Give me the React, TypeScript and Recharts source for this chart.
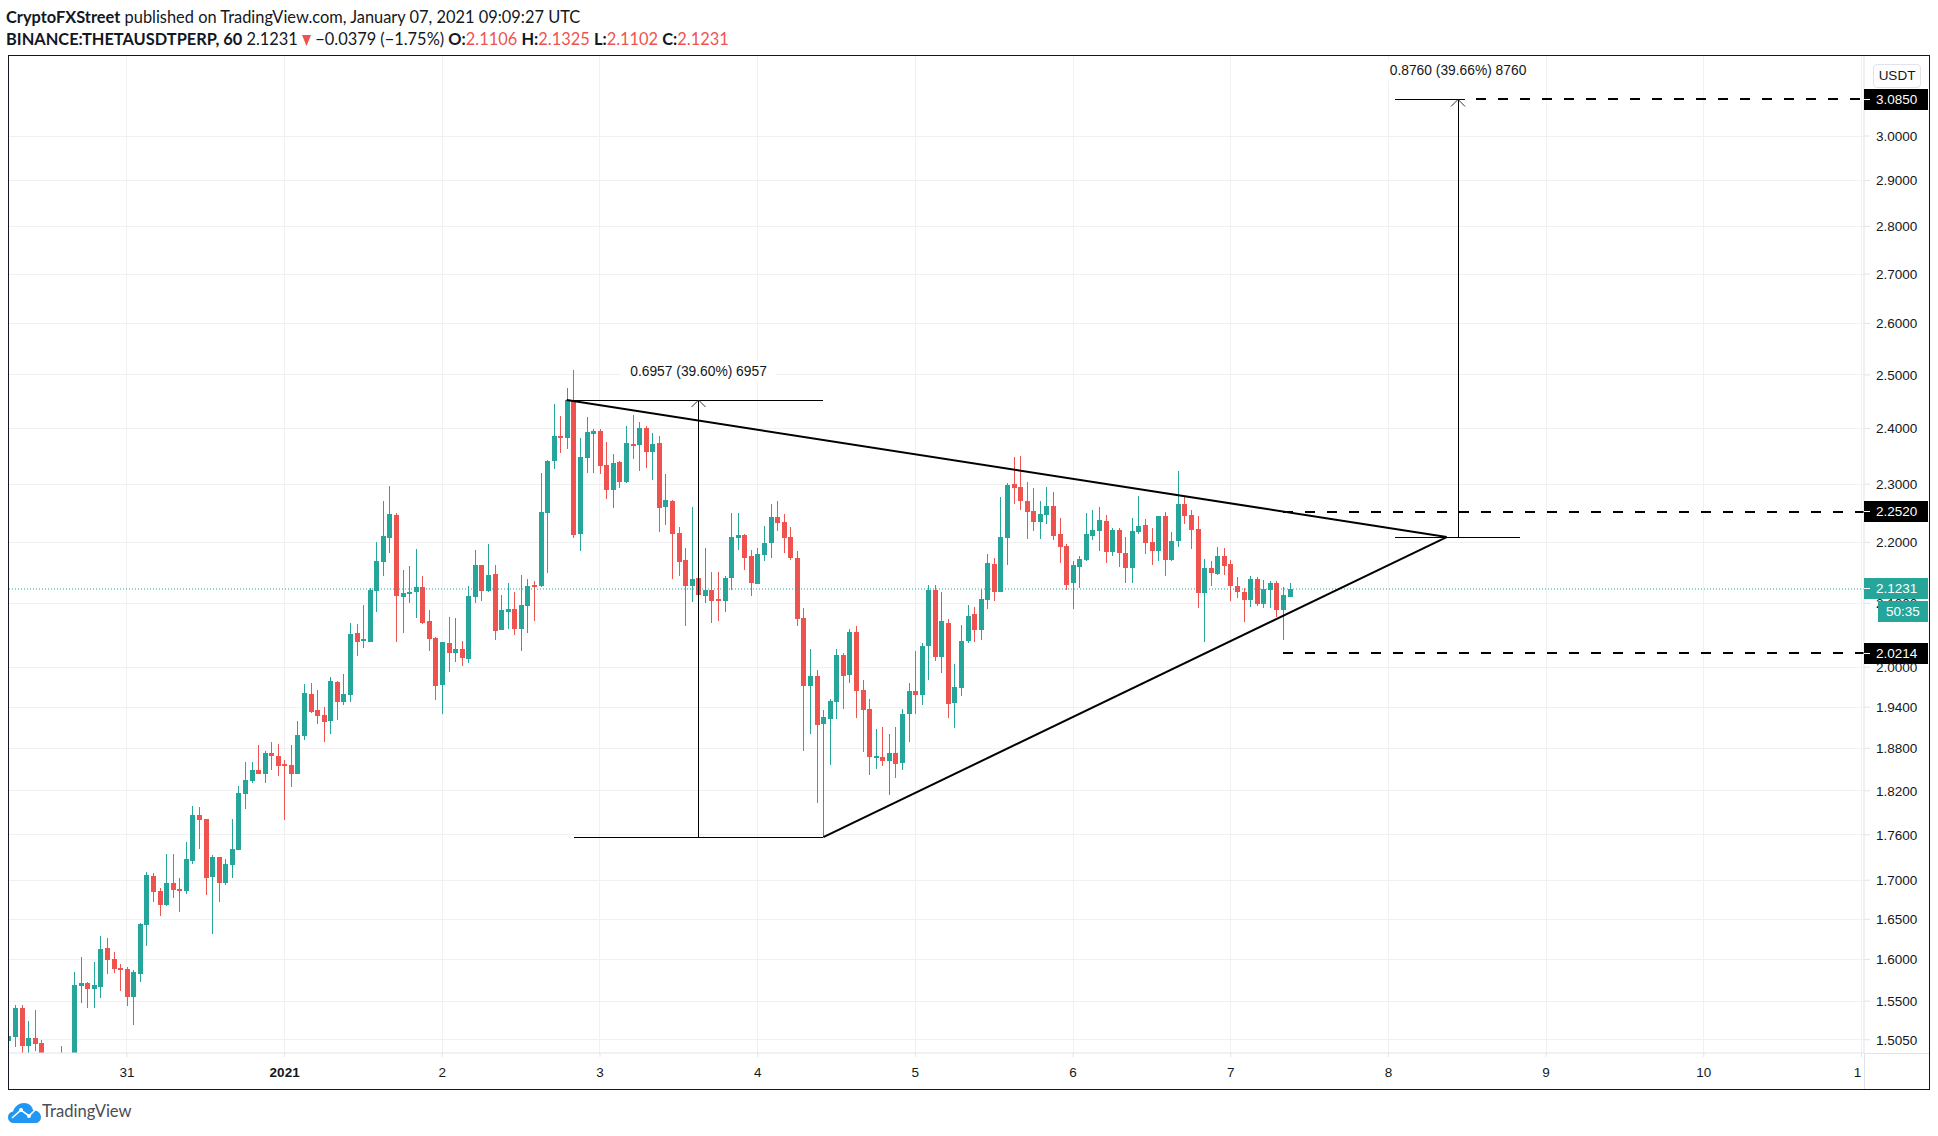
import { ComposedChart, Bar, XAxis, YAxis, CartesianGrid, ReferenceLine, ReferenceDot } from 'recharts'

const UP = '#26a69a'
const DOWN = '#ef5350'
const INK = '#131722'
const AXIS = '#e0e3eb'
const GRID = '#f1f1f3'
const AXIS_FONT = '"Liberation Sans", sans-serif'

// hourly candles, first one is Dec 30 06:00
const opens = [
  1.504, 1.508, 1.542, 1.498, 1.507, 1.501, 1.473, 1.454, 1.468, 1.482,
  1.473, 1.568, 1.572, 1.565, 1.567, 1.614, 1.601, 1.590, 1.589, 1.555,
  1.583, 1.643, 1.705, 1.686, 1.668, 1.696, 1.689, 1.686, 1.725, 1.787,
  1.781, 1.704, 1.730, 1.696, 1.720, 1.740, 1.816, 1.834, 1.849, 1.844,
  1.873, 1.869, 1.858, 1.856, 1.844, 1.898, 1.960, 1.936, 1.929, 1.920,
  1.978, 1.948, 1.958, 2.053, 2.041, 2.039, 2.120, 2.167, 2.207, 2.247,
  2.110, 2.115, 2.118, 2.127, 2.072, 2.045, 1.973, 2.037, 2.022, 2.028,
  2.013, 2.110, 2.162, 2.120, 2.148, 2.058, 2.086, 2.091, 2.059, 2.096,
  2.130, 2.128, 2.250, 2.341, 2.386, 2.383, 2.453, 2.214, 2.347, 2.390,
  2.395, 2.334, 2.290, 2.339, 2.304, 2.372, 2.370, 2.401, 2.357, 2.374,
  2.260, 2.271, 2.216, 2.171, 2.128, 2.141, 2.112, 2.122, 2.107, 2.104,
  2.141, 2.208, 2.213, 2.177, 2.131, 2.179, 2.199, 2.243, 2.235, 2.209,
  2.174, 2.077, 1.972, 1.987, 1.915, 1.923, 1.948, 2.019, 1.988, 2.055,
  1.966, 1.937, 1.866, 1.868, 1.862, 1.873, 1.859, 1.930, 1.964, 1.958,
  2.033, 2.122, 2.016, 2.069, 1.946, 1.969, 2.041, 2.083, 2.058, 2.105,
  2.164, 2.118, 2.208, 2.300, 2.295, 2.271, 2.254, 2.235, 2.247, 2.262,
  2.214, 2.194, 2.133, 2.159, 2.171, 2.211, 2.219, 2.236, 2.184, 2.221,
  2.182, 2.158, 2.218, 2.230, 2.201, 2.186, 2.245, 2.171, 2.202, 2.266,
  2.247, 2.223, 2.117, 2.158, 2.148, 2.177, 2.164, 2.128, 2.118, 2.105,
  2.139, 2.099, 2.122, 2.133, 2.089, 2.1106,
]
const highs = [
  1.509, 1.546, 1.546, 1.527, 1.540, 1.505, 1.482, 1.480, 1.498, 1.487,
  1.585, 1.603, 1.573, 1.597, 1.629, 1.627, 1.609, 1.595, 1.591, 1.587,
  1.645, 1.711, 1.709, 1.690, 1.734, 1.734, 1.703, 1.750, 1.799, 1.798,
  1.781, 1.733, 1.730, 1.728, 1.781, 1.827, 1.861, 1.861, 1.885, 1.876,
  1.889, 1.886, 1.863, 1.885, 1.920, 1.975, 1.976, 1.966, 1.940, 1.985,
  1.979, 1.990, 2.069, 2.067, 2.097, 2.125, 2.201, 2.271, 2.297, 2.250,
  2.154, 2.161, 2.189, 2.144, 2.089, 2.047, 2.039, 2.078, 2.077, 2.041,
  2.128, 2.187, 2.162, 2.197, 2.162, 2.114, 2.133, 2.118, 2.146, 2.139,
  2.136, 2.320, 2.343, 2.445, 2.423, 2.475, 2.510, 2.383, 2.421, 2.399,
  2.399, 2.375, 2.354, 2.341, 2.405, 2.425, 2.412, 2.405, 2.392, 2.386,
  2.318, 2.272, 2.226, 2.191, 2.260, 2.141, 2.191, 2.151, 2.151, 2.144,
  2.250, 2.250, 2.214, 2.187, 2.191, 2.228, 2.266, 2.271, 2.248, 2.226,
  2.186, 2.093, 2.028, 1.996, 1.936, 1.952, 2.028, 2.022, 2.059, 2.064,
  1.981, 1.952, 1.908, 1.911, 1.901, 1.911, 1.937, 1.976, 2.025, 2.037,
  2.130, 2.130, 2.118, 2.075, 2.005, 2.066, 2.097, 2.094, 2.123, 2.181,
  2.174, 2.278, 2.302, 2.348, 2.350, 2.304, 2.293, 2.271, 2.295, 2.286,
  2.241, 2.197, 2.169, 2.177, 2.250, 2.255, 2.260, 2.247, 2.224, 2.224,
  2.209, 2.241, 2.279, 2.240, 2.224, 2.245, 2.252, 2.218, 2.323, 2.279,
  2.255, 2.245, 2.172, 2.169, 2.192, 2.191, 2.171, 2.143, 2.125, 2.144,
  2.143, 2.138, 2.136, 2.136, 2.127, 2.1325,
]
const lows = [
  1.504, 1.497, 1.482, 1.482, 1.493, 1.465, 1.451, 1.446, 1.460, 1.461,
  1.465, 1.548, 1.542, 1.542, 1.554, 1.583, 1.584, 1.562, 1.544, 1.522,
  1.573, 1.617, 1.671, 1.654, 1.666, 1.677, 1.660, 1.682, 1.721, 1.741,
  1.680, 1.632, 1.672, 1.694, 1.703, 1.740, 1.795, 1.832, 1.844, 1.831,
  1.849, 1.841, 1.780, 1.825, 1.844, 1.892, 1.931, 1.915, 1.889, 1.901,
  1.921, 1.943, 1.948, 2.017, 2.030, 2.039, 2.086, 2.144, 2.182, 2.039,
  2.053, 2.101, 2.077, 2.067, 2.025, 1.951, 1.930, 1.993, 2.008, 2.002,
  2.007, 2.101, 2.104, 2.118, 2.041, 2.058, 2.059, 2.050, 2.025, 2.053,
  2.072, 2.127, 2.149, 2.327, 2.356, 2.363, 2.208, 2.186, 2.320, 2.320,
  2.318, 2.274, 2.259, 2.293, 2.302, 2.345, 2.323, 2.329, 2.307, 2.218,
  2.230, 2.139, 2.144, 2.064, 2.102, 2.114, 2.101, 2.069, 2.072, 2.086,
  2.122, 2.187, 2.154, 2.112, 2.131, 2.169, 2.174, 2.219, 2.182, 2.171,
  2.064, 1.876, 1.901, 1.803, 1.757, 1.856, 1.923, 1.937, 1.976, 1.924,
  1.875, 1.842, 1.851, 1.855, 1.814, 1.838, 1.849, 1.889, 1.930, 1.943,
  1.981, 2.010, 1.991, 1.924, 1.909, 1.957, 2.037, 2.039, 2.042, 2.091,
  2.104, 2.118, 2.162, 2.266, 2.255, 2.206, 2.219, 2.206, 2.231, 2.204,
  2.166, 2.122, 2.091, 2.125, 2.169, 2.204, 2.186, 2.166, 2.177, 2.159,
  2.133, 2.133, 2.214, 2.181, 2.162, 2.169, 2.144, 2.169, 2.192, 2.230,
  2.189, 2.093, 2.039, 2.128, 2.146, 2.146, 2.104, 2.109, 2.070, 2.094,
  2.096, 2.093, 2.093, 2.078, 2.042, 2.1102,
]
const closes = [
  1.509, 1.542, 1.498, 1.507, 1.500, 1.473, 1.460, 1.468, 1.482, 1.468,
  1.569, 1.572, 1.565, 1.569, 1.613, 1.600, 1.589, 1.589, 1.555, 1.585,
  1.644, 1.707, 1.685, 1.668, 1.696, 1.687, 1.687, 1.728, 1.787, 1.780,
  1.703, 1.730, 1.696, 1.721, 1.741, 1.817, 1.835, 1.849, 1.844, 1.873,
  1.869, 1.855, 1.855, 1.844, 1.899, 1.961, 1.933, 1.927, 1.918, 1.979,
  1.948, 1.960, 2.052, 2.039, 2.044, 2.122, 2.169, 2.211, 2.248, 2.112,
  2.117, 2.118, 2.127, 2.069, 2.044, 1.972, 2.039, 2.022, 2.028, 2.014,
  2.112, 2.162, 2.120, 2.146, 2.056, 2.089, 2.091, 2.059, 2.097, 2.128,
  2.127, 2.252, 2.341, 2.386, 2.383, 2.453, 2.213, 2.348, 2.394, 2.395,
  2.332, 2.290, 2.338, 2.304, 2.374, 2.370, 2.401, 2.357, 2.372, 2.259,
  2.272, 2.214, 2.167, 2.128, 2.139, 2.114, 2.122, 2.104, 2.104, 2.141,
  2.209, 2.213, 2.174, 2.133, 2.181, 2.199, 2.243, 2.233, 2.208, 2.174,
  2.075, 1.972, 1.987, 1.914, 1.926, 1.949, 2.019, 1.987, 2.055, 1.964,
  1.936, 1.868, 1.869, 1.862, 1.873, 1.858, 1.930, 1.964, 1.958, 2.033,
  2.122, 2.016, 2.072, 1.945, 1.970, 2.041, 2.080, 2.058, 2.107, 2.166,
  2.118, 2.209, 2.299, 2.293, 2.271, 2.252, 2.235, 2.248, 2.262, 2.211,
  2.192, 2.130, 2.162, 2.172, 2.214, 2.221, 2.238, 2.184, 2.221, 2.182,
  2.158, 2.219, 2.228, 2.199, 2.186, 2.245, 2.171, 2.202, 2.266, 2.245,
  2.221, 2.117, 2.158, 2.149, 2.177, 2.161, 2.128, 2.118, 2.105, 2.139,
  2.099, 2.123, 2.133, 2.089, 2.114, 2.1231,
]

const priceTicks = [3, 2.9, 2.8, 2.7, 2.6, 2.5, 2.4, 2.3, 2.2, 2.1, 2, 1.94, 1.88, 1.82, 1.76, 1.7, 1.65, 1.6, 1.55, 1.505]
const dayTicks = [18, 42, 66, 90, 114, 138, 162, 186, 210, 234, 258, 282]
const dayLabels = ['31', '2021', '2', '3', '4', '5', '6', '7', '8', '9', '10', '1']

const lastPrice = 2.1231
const target = 3.085
const breakout = 2.252
const invalidation = 2.0214
const apexPrice = 2.209
const triangleHigh = 2.4525
const triangleLow = 1.7568

const xMax = 282.39
const candles = opens.map((open, i) => ({ i, open, high: highs[i], low: lows[i], close: closes[i] }))

function Candle({ x, y, width, height, payload }: any) {
  const top = Math.min(y, y + height)
  const h = Math.abs(height)
  const at = (v: number) => top + (h * Math.log(payload.high / v)) / Math.log(payload.high / payload.low)
  const color = payload.close >= payload.open ? UP : DOWN
  const bodyTop = Math.round(at(Math.max(payload.open, payload.close)))
  const bodyBottom = Math.round(at(Math.min(payload.open, payload.close)))
  const left = Math.round(x)
  return (
    <g shapeRendering="crispEdges">
      <rect x={left + 2} y={Math.round(top)} width={1} height={Math.max(1, Math.round(h))} fill={color} />
      <rect x={left} y={bodyTop} width={width} height={Math.max(2, bodyBottom - bodyTop)} fill={color} />
    </g>
  )
}

function DayTick({ x, y, payload }: any) {
  const idx = dayTicks.indexOf(payload.value)
  const last = idx === dayTicks.length - 1
  return (
    <text x={last ? x - 4 : x} y={y + 18} textAnchor="middle" fontFamily={AXIS_FONT} fontSize={13.5}
      fontWeight={dayLabels[idx] === '2021' ? 700 : 400} fill={INK}>
      {dayLabels[idx]}
    </text>
  )
}

function PriceTag({ cy, text, color }: any) {
  const top = Math.floor(cy) - 10
  return (
    <g shapeRendering="crispEdges">
      <rect x={1864} y={top} width={64} height={21} fill={color} />
      <line x1={1864} x2={1870} y1={top + 10.5} y2={top + 10.5} stroke="#fff" />
      <text x={1876} y={top + 15} fontFamily={AXIS_FONT} fontSize={13.5} fill="#fff">{text}</text>
    </g>
  )
}

function Measure({ cx, cy, text }: any) {
  return (
    <g>
      <rect x={cx - 78} y={cy - 39} width={156} height={20} fill="#fff" />
      <path d={`M${cx - 7} ${cy + 7}L${cx} ${cy}L${cx + 7} ${cy + 7}`} fill="none" stroke="#333" />
      <text x={cx} y={cy - 24} textAnchor="middle" fontFamily={AXIS_FONT} fontSize={13.8} fill={INK}>{text}</text>
    </g>
  )
}

const seg = (x1: number, y1: number, x2: number, y2: number, width = 1, dash?: string, crisp = true) => (
  <ReferenceLine
    segment={[{ x: x1, y: y1 }, { x: x2, y: y2 }]}
    stroke="#000"
    strokeWidth={width}
    strokeDasharray={dash}
    shapeRendering={crisp ? 'crispEdges' : undefined}
    ifOverflow="visible"
  />
)

const red = { color: DOWN }
const headerLine = { position: 'absolute', left: 6, fontFamily: 'Lato, sans-serif', fontSize: 16.4, color: INK, whiteSpace: 'nowrap' } as const

export default function App() {
  return (
    <div style={{ position: 'absolute', left: 0, top: 0, width: 1938, height: 1136, background: '#fff', overflow: 'hidden' }}>
      <div style={{ ...headerLine, top: 7 }}>
        <b>CryptoFXStreet</b> published on TradingView.com, January 07, 2021 09:09:27 UTC
      </div>
      <div style={{ ...headerLine, top: 29 }}>
        <b>BINANCE:THETAUSDTPERP, 60</b> 2.1231{' '}
        <svg width={9} height={11} viewBox="0 0 9 11" style={{ verticalAlign: -1 }}><path d="M0 0H9L4.5 11Z" fill={DOWN} /></svg>{' '}
        −0.0379 (−1.75%) <b>O:</b><span style={red}>2.1106</span> <b>H:</b><span style={red}>2.1325</span> <b>L:</b><span style={red}>2.1102</span> <b>C:</b><span style={red}>2.1231</span>
      </div>

      <ComposedChart width={1938} height={1136} data={candles} margin={{ top: 56, right: 9, bottom: 47, left: 9 }} style={{ position: 'absolute', left: 0, top: 0 }}>
        <CartesianGrid stroke={GRID} shapeRendering="crispEdges" horizontalValues={priceTicks} verticalValues={dayTicks} />
        <XAxis dataKey="i" type="number" domain={[0.046, xMax]} allowDataOverflow ticks={dayTicks} interval={0}
          height={36} stroke={AXIS} tickLine={{ stroke: AXIS }} tickSize={4} tick={<DayTick />} />
        <YAxis orientation="right" type="number" scale="log" domain={[1.4899, 3.189]} allowDataOverflow ticks={priceTicks} interval={0}
          width={65} stroke={AXIS} tickLine={{ stroke: AXIS }} tickSize={6} tickMargin={6}
          tick={{ fill: INK, fontSize: 13.5, fontFamily: AXIS_FONT }} tickFormatter={(v: number) => v.toFixed(4)} />

        <ReferenceLine y={lastPrice} stroke={UP} strokeDasharray="1 2" ifOverflow="visible" />
        <Bar dataKey={(d: any) => [d.low, d.high]} barSize={5} isAnimationActive={false} shape={<Candle />} />

        {seg(84.93, triangleHigh, 218.87, apexPrice, 2, undefined, false)}
        {seg(124, triangleLow, 218.87, apexPrice, 2, undefined, false)}
        {seg(85, triangleHigh, 124, triangleHigh)}
        {seg(86, triangleLow, 124, triangleLow)}
        {seg(105, triangleLow, 105, triangleHigh)}
        {seg(211, apexPrice, 230, apexPrice)}
        {seg(211, target, 221.67, target)}
        {seg(220.6, apexPrice, 220.6, target)}
        {seg(223.33, target, xMax, target, 2, '10 12')}
        {seg(194, breakout, xMax, breakout, 2, '10 12')}
        {seg(194, invalidation, xMax, invalidation, 2, '10 12')}

        <ReferenceDot x={105} y={triangleHigh} shape={<Measure text="0.6957 (39.60%) 6957" />} ifOverflow="visible" />
        <ReferenceDot x={220.6} y={target} shape={<Measure text="0.8760 (39.66%) 8760" />} ifOverflow="visible" />
        <ReferenceDot x={xMax} y={lastPrice} shape={<PriceTag text="2.1231" color={UP} />} ifOverflow="visible" />
        <ReferenceDot x={xMax} y={target} shape={<PriceTag text="3.0850" color="#000" />} ifOverflow="visible" />
        <ReferenceDot x={xMax} y={breakout} shape={<PriceTag text="2.2520" color="#000" />} ifOverflow="visible" />
        <ReferenceDot x={xMax} y={invalidation} shape={<PriceTag text="2.0214" color="#000" />} ifOverflow="visible" />
      </ComposedChart>

      {/* frame and the bits of axis that run past the plot */}
      <div style={{ position: 'absolute', left: 8, top: 55, width: 1922, height: 1035, boxSizing: 'border-box', border: '1px solid #131722' }} />
      <div style={{ position: 'absolute', left: 1864, top: 1053, width: 65, height: 1, background: AXIS }} />
      <div style={{ position: 'absolute', left: 1864, top: 1053, width: 1, height: 36, background: AXIS }} />
      <div style={{ position: 'absolute', left: 1878, top: 601, width: 50, height: 21, background: UP, color: '#fff', fontFamily: AXIS_FONT, fontSize: 13.5, lineHeight: '21px', textAlign: 'center' }}>50:35</div>
      <div style={{ position: 'absolute', left: 1873, top: 64, width: 48, height: 24, boxSizing: 'border-box', border: `1px solid ${AXIS}`, borderRadius: 4, color: INK, fontFamily: AXIS_FONT, fontSize: 13.5, lineHeight: '22px', textAlign: 'center' }}>USDT</div>

      <svg style={{ position: 'absolute', left: 8, top: 1103 }} width={33} height={20} viewBox="0 0 33 20">
        <path d="M0 14C0 11 2 9 5 8.5C7 3 11 0 16 0C21 0 24 3 25 7C29 7 33 10 33 14C33 18 30 20 27 20H6C3 20 0 18 0 14Z" fill="#2196f3" />
        <path d="M4 15L13 7L21 13L28 6" fill="none" stroke="#fff" strokeWidth={1.6} />
        <circle cx={13} cy={7} r={2} fill="#fff" />
        <circle cx={21} cy={13} r={2} fill="#fff" />
      </svg>
      <div style={{ position: 'absolute', left: 42, top: 1101, fontFamily: 'Lato, sans-serif', fontSize: 16.6, color: '#4a4d57' }}>TradingView</div>
    </div>
  )
}
